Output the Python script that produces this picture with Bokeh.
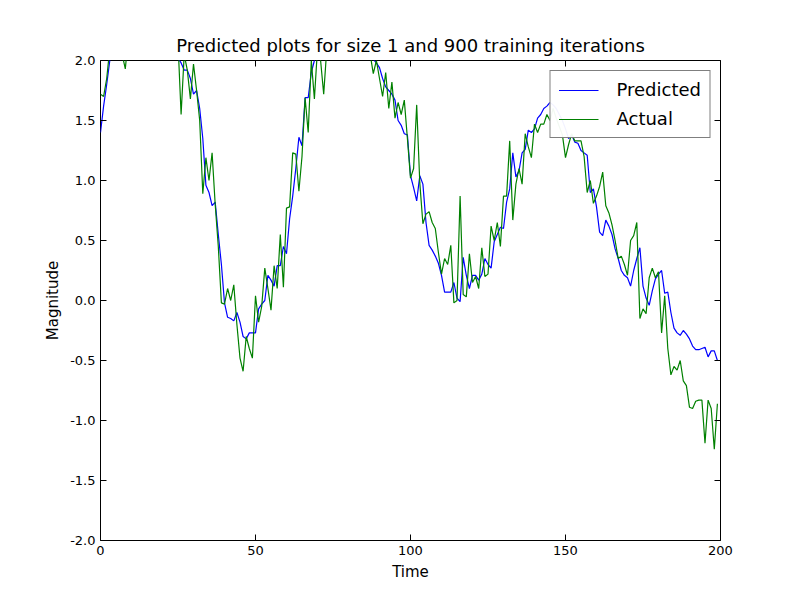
from bokeh.plotting import figure
from bokeh.models import (Range1d, LinearAxis, FixedTicker, NumeralTickFormatter,
                          CustomJSTickFormatter, Legend, LegendItem)
from bokeh.embed import file_html
from bokeh.resources import INLINE

# 预测值与实际值（从图上读取，超过2.0的部分被裁掉，按趋势估计）
predicted = [1.40, 1.62, 1.80, 2.0, 2.1, 2.2, 2.28, 2.35, 2.4, 2.45,
             2.48, 2.5, 2.5, 2.5, 2.49, 2.47, 2.45, 2.42, 2.38, 2.33,
             2.28, 2.22, 2.16, 2.1, 2.05, 2.02, 1.98, 1.92, 1.92, 1.85,
             1.72, 1.75, 1.6, 1.35, 0.96, 0.9, 0.79, 0.82, 0.55, 0.3,
             -0.02, -0.14, -0.15, -0.17, -0.1, -0.18, -0.3, -0.32, -0.27, -0.27,
             -0.27, -0.07, -0.03, 0.0, 0.21, 0.17, 0.12, 0.29, 0.29, 0.45,
             0.39, 0.68, 0.87, 1.1, 1.36, 1.29, 1.69, 1.69, 1.9, 2.0,
             2.1, 2.2, 2.3, 2.38, 2.44, 2.48, 2.5, 2.5, 2.48, 2.45,
             2.4, 2.35, 2.3, 2.24, 2.18, 2.12, 2.07, 2.03, 2.01, 1.98,
             1.94, 1.85, 1.78, 1.75, 1.72, 1.67, 1.5, 1.46, 1.39, 1.38,
             1.04, 0.94, 0.83, 1.04, 0.97, 0.65, 0.46, 0.42, 0.37, 0.31,
             0.21, 0.07, 0.07, 0.07, 0.15, 0.02, -0.01, 0.36, 0.21, 0.1,
             0.21, 0.21, 0.17, 0.22, 0.35, 0.3, 0.27, 0.49, 0.55, 0.61,
             0.6, 0.82, 0.93, 1.23, 1.03, 1.08, 1.23, 1.26, 1.42, 1.4,
             1.43, 1.52, 1.55, 1.6, 1.62, 1.65, 1.63, 1.6, 1.55, 1.5,
             1.43, 1.35, 1.38, 1.32, 1.31, 1.25, 1.23, 1.21, 0.9, 0.93,
             0.78, 0.57, 0.54, 0.67, 0.62, 0.55, 0.43, 0.35, 0.25, 0.21,
             0.19, 0.12, 0.25, 0.35, 0.44, 0.12, 0.02, -0.04, 0.08, 0.18,
             0.22, 0.25, 0.06, 0.07, -0.1, -0.23, -0.27, -0.29, -0.25, -0.28,
             -0.32, -0.38, -0.41, -0.41, -0.40, -0.39, -0.47, -0.42, -0.42, -0.5]

actual = [1.72, 1.70, 1.85, 2.1, 2.2, 2.15, 2.1, 2.05, 1.93, 2.2,
          2.3, 2.4, 2.35, 2.5, 2.45, 2.4, 2.5, 2.45, 2.35, 2.4,
          2.3, 2.25, 2.3, 2.2, 2.1, 2.15, 1.55, 2.05, 1.92, 1.68,
          1.97, 1.75, 1.5, 0.89, 1.19, 1.0, 1.23, 0.8, 0.45, -0.02,
          -0.03, 0.1, 0.0, 0.13, -0.2, -0.48, -0.59, -0.3, -0.4, -0.48,
          0.04, -0.18, -0.05, 0.27, 0.1, -0.08, 0.29, 0.1, 0.55, 0.11,
          0.77, 0.78, 1.23, 1.22, 0.91, 1.2, 1.69, 1.4, 2.0, 1.68,
          2.1, 2.0, 1.72, 2.1, 2.2, 2.3, 2.4, 2.35, 2.5, 2.4,
          2.45, 2.3, 2.35, 2.25, 2.2, 2.15, 2.1, 2.05, 1.89, 2.0,
          1.85, 1.7, 1.9, 1.6, 1.82, 1.52, 1.65, 1.55, 1.67, 1.35,
          1.02, 1.1, 1.63, 0.98, 0.64, 0.72, 0.74, 0.65, 0.6, 0.4,
          0.22, 0.35, 0.3, 0.46, -0.02, 0.0, 0.87, 0.05, 0.03, 0.39,
          0.15, 0.2, 0.1, 0.44, 0.2, 0.22, 0.62, 0.5, 0.65, 0.45,
          0.87, 0.87, 1.33, 0.67, 0.97, 1.1, 0.97, 1.39, 1.28, 1.19,
          1.47, 1.4, 1.47, 1.47, 1.55, 1.5, 1.6, 1.52, 1.45, 1.38,
          1.19, 1.3, 1.39, 1.33, 1.33, 1.33, 1.2, 0.9, 1.0, 0.81,
          0.87, 0.95, 1.07, 0.79, 0.73, 0.63, 0.5, 0.35, 0.37, 0.3,
          0.21, 0.5, 0.54, 0.65, -0.15, -0.07, -0.11, 0.19, 0.27, 0.19,
          0.24, -0.27, 0.04, -0.4, -0.62, -0.55, -0.58, -0.5, -0.67, -0.71,
          -0.89, -0.9, -0.84, -0.83, -0.83, -1.19, -0.83, -0.9, -1.24, -0.86]

time = list(range(len(predicted)))
x_ticks = [0, 50, 100, 150, 200]
y_ticks = [-2.0, -1.5, -1.0, -0.5, 0.0, 0.5, 1.0, 1.5, 2.0]

FONT = "DejaVu Sans"

p = figure(width=800, height=600, output_backend="svg", toolbar_location=None,
           title="Predicted plots for size 1 and 900 training iterations",
           x_range=Range1d(0, 200), y_range=Range1d(-2, 2),
           x_axis_label="Time", y_axis_label="Magnitude",
           min_border_left=100, min_border_right=80,
           min_border_top=60, min_border_bottom=60)

p.title.align = "center"
p.title.text_font = FONT
p.title.text_font_style = "normal"
p.title.text_font_size = "18px"
p.title.text_color = "black"
p.grid.visible = False
p.outline_line_color = "black"
p.outline_line_width = 1

# 额外的上、右坐标轴，只有刻度
p.add_layout(LinearAxis(), "right")
p.add_layout(LinearAxis(), "above")

for ax in p.axis:
    ax.major_tick_in = 6
    ax.major_tick_out = 0
    ax.minor_tick_in = 0
    ax.minor_tick_out = 0
    ax.axis_line_color = None
    ax.major_tick_line_color = "black"
    ax.major_label_text_font = FONT
    ax.major_label_text_font_size = "13px"
    ax.major_label_text_color = "black"
    ax.axis_label_text_font = FONT
    ax.axis_label_text_font_size = "15px"
    ax.axis_label_text_font_style = "normal"
    ax.axis_label_text_color = "black"

for ax in p.xaxis:
    ax.ticker = FixedTicker(ticks=x_ticks)
for ax in p.yaxis:
    ax.ticker = FixedTicker(ticks=y_ticks)
    ax.formatter = NumeralTickFormatter(format="0.0")

blank = CustomJSTickFormatter(code="return ''")
p.right[0].formatter = blank
p.above[0].formatter = blank

r1 = p.line(time, predicted, line_color="blue", line_width=1.2)
r2 = p.line(time, actual, line_color="green", line_width=1.2)

legend = Legend(items=[LegendItem(label="Predicted", renderers=[r1]),
                       LegendItem(label="Actual", renderers=[r2])],
                location="top_right")
legend.label_text_font = FONT
legend.label_text_font_size = "18px"
legend.label_text_color = "black"
legend.border_line_color = "black"
legend.border_line_width = 1
legend.glyph_width = 40
legend.label_standoff = 18
legend.padding = 8
legend.spacing = 8
legend.margin = 10
p.add_layout(legend)

open("out.html", "w").write(file_html(p, INLINE))
